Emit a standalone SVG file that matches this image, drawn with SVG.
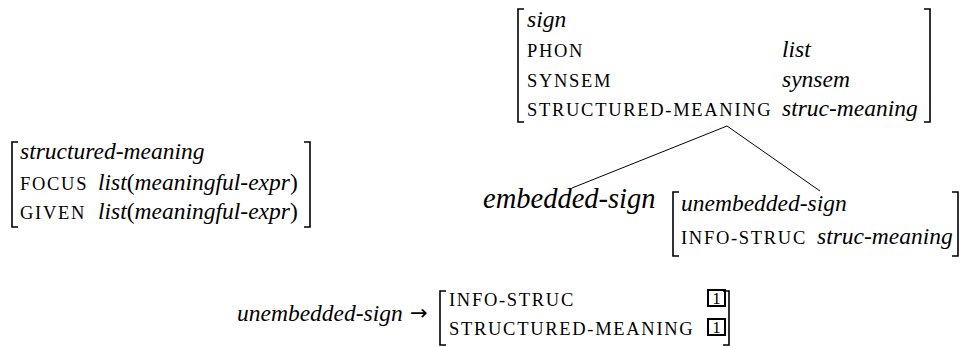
<svg xmlns="http://www.w3.org/2000/svg" width="963" height="347" viewBox="0 0 963 347">
<style>
text{font-family:'Liberation Serif','Times New Roman',serif}
.sc{font-size:18.5px;letter-spacing:1.7px;fill:#000}
.it{font-size:23.5px;font-style:italic;fill:#000}
.rm{font-size:23.5px;font-style:normal;fill:#000}
.br{fill:none;stroke:#000;stroke-width:1.6}
.ln{fill:none;stroke:#000;stroke-width:1}
.box{fill:none;stroke:#000;stroke-width:2}
</style>
<rect width="963" height="347" fill="#fff"/>
<g id="sign">
<path class="br" d="M524,9 H518 V122 H524"/>
<path class="br" d="M924,9 H930 V122 H924"/>
<text class="it" x="527" y="27">sign</text>
<text class="sc" x="527" y="57">PHON</text>
<text class="it" x="782" y="57">list</text>
<text class="sc" x="527" y="87">SYNSEM</text>
<text class="it" x="782" y="87">synsem</text>
<text class="sc" x="527" y="116">STRUCTURED-MEANING</text>
<text class="it" x="782" y="116">struc-meaning</text>
</g>
<g id="structured-meaning">
<path class="br" d="M18,142 H12 V227 H18"/>
<path class="br" d="M304,142 H310 V227 H304"/>
<text class="it" x="20" y="159">structured-meaning</text>
<text class="sc" x="20" y="190">FOCUS</text>
<text class="it" x="98" y="190">list<tspan class="rm">(</tspan>meaningful-expr<tspan class="rm">)</tspan></text>
<text class="sc" x="20" y="219">GIVEN</text>
<text class="it" x="98" y="219">list<tspan class="rm">(</tspan>meaningful-expr<tspan class="rm">)</tspan></text>
</g>
<g id="embedded-sign">
<text class="it" x="483" y="208" style="font-size:28.5px">embedded-sign</text>
</g>
<g id="unembedded-sign">
<path class="br" d="M679,192 H673 V256 H679"/>
<path class="br" d="M952,192 H958 V256 H952"/>
<text class="it" x="681" y="211">unembedded-sign</text>
<text class="sc" x="681" y="244">INFO-STRUC</text>
<text class="it" x="817" y="244">struc-meaning</text>
</g>
<g id="connectors">
<line class="ln" x1="727" y1="126" x2="572" y2="188"/>
<line class="ln" x1="727" y1="126" x2="820" y2="191"/>
</g>
<g id="constraint">
<text class="it" x="237" y="321">unembedded-sign</text>
<text x="410" y="320" style="font-family:'DejaVu Sans',sans-serif;font-size:21px">→</text>
<path class="br" d="M446,291 H440 V345 H446"/>
<path class="br" d="M723,291 H729 V345 H723"/>
<text class="sc" x="449" y="306">INFO-STRUC</text>
<text class="sc" x="449" y="335">STRUCTURED-MEANING</text>
<rect class="box" x="708" y="290" width="17" height="16"/>
<text class="rm" x="716.5" y="304" text-anchor="middle" style="font-size:17px">1</text>
<rect class="box" x="708" y="319" width="17" height="16"/>
<text class="rm" x="716.5" y="333" text-anchor="middle" style="font-size:17px">1</text>
</g>
</svg>
